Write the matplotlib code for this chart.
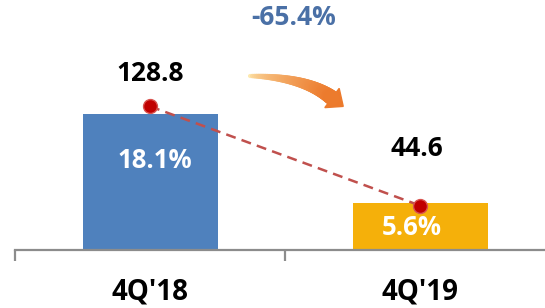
import matplotlib.pyplot as plt
import numpy as np
from matplotlib.collections import LineCollection
from matplotlib.colors import to_rgb
from matplotlib.patches import Polygon

# Values
categories = ["4Q'18", "4Q'19"]
amounts = [128.8, 44.6]
ratios = [18.1, 5.6]
change_label = "-65.4%"

bar_colors = ["#4f81bd", "#f5b00a"]

plt.rcParams['font.family'] = ['Open Sans', 'DejaVu Sans']

W, H = 545, 308
fig = plt.figure(figsize=(W / 100, H / 100), dpi=100)
ax = fig.add_axes([15 / W, 58 / H, 529 / W, 250 / H])
ax2 = ax.twinx()

x = list(range(len(categories)))
ax.bar(x, amounts, width=0.5, color=bar_colors, zorder=2)
ax.set_xlim(-0.5, -0.5 + 529 / 270)
ax.set_ylim(0, 237)

ax2.plot(x, ratios, color="#c0504d", linestyle=(0, (4, 2.5)), linewidth=1.8,
         marker="o", markersize=10, markerfacecolor="#c00000",
         markeredgecolor="#d9534f", markeredgewidth=1, zorder=3)
ax2.set_ylim(0, 31.5)

# axis styling: only bottom line with category separators
for a in (ax, ax2):
    for s in ("top", "left", "right"):
        a.spines[s].set_visible(False)
    a.set_yticks([])
ax.spines["bottom"].set_color("#8c8c8c")
ax.spines["bottom"].set_linewidth(1.6)
ax2.spines["bottom"].set_visible(False)
ax.set_xticks([-0.5, 0.5])
ax.set_xticklabels([])
ax.tick_params(axis="x", direction="out", length=8, width=1.6, color="#8c8c8c")

# category labels
for i, c in enumerate(categories):
    ax.annotate(c, (i, 0), xytext=(0, -30), textcoords="offset points",
                ha="center", va="center", annotation_clip=False,
                fontsize=20, fontweight="bold")

# amount labels above bars
amount_offsets = [(0, 29.5), (-2, 39.5)]
for i, v in enumerate(amounts):
    ax.annotate(f"{v:.1f}", (i, v), xytext=amount_offsets[i],
                textcoords="offset points", ha="center", va="center",
                fontsize=19, fontweight="bold")

# ratio labels inside bars
ratio_offsets = [(3.6, -33.6), (-5.8, -17.8)]
for i, v in enumerate(ratios):
    ax.annotate(f"{v:.1f}%", (i, amounts[i]), xytext=ratio_offsets[i],
                textcoords="offset points", ha="center", va="center",
                color="white", fontsize=18.5, fontweight="bold")

# change label
fig.text(294 / W, 1 - 17.5 / H, change_label, ha="center", va="center",
         color="#4a70a6", fontsize=19, fontweight="bold")

# curved, tapered arrow with a yellow-to-orange gradient (pixel coords -> figure)
t = np.linspace(0, 1, 50)
p0, p1, p2 = np.array([250, 76]), np.array([305, 77]), np.array([332, 98])
pts = ((1 - t) ** 2)[:, None] * p0 + (2 * (1 - t) * t)[:, None] * p1 + (t ** 2)[:, None] * p2
fpts = np.column_stack([pts[:, 0] / W, 1 - pts[:, 1] / H])
segs = np.stack([fpts[:-1], fpts[1:]], axis=1)
c0, c1 = np.array(to_rgb("#fde9b0")), np.array(to_rgb("#ec7a2c"))
cols = [tuple(c0 + (c1 - c0) * k ** 0.5) for k in t[:-1]]
lc = LineCollection(segs, colors=cols, linewidths=np.linspace(3, 11, len(segs)),
                    transform=fig.transFigure, capstyle="round")
fig.add_artist(lc)
d = pts[-1] - pts[-3]
d = d / np.hypot(*d)
nrm = np.array([-d[1], d[0]])
tip = pts[-1] + d * 14
head = np.array([pts[-1] + nrm * 12, tip, pts[-1] - nrm * 12])
fig.add_artist(Polygon(np.column_stack([head[:, 0] / W, 1 - head[:, 1] / H]),
                       closed=True, color="#ec7a2c", transform=fig.transFigure))

fig.savefig("out.png", dpi=100)
